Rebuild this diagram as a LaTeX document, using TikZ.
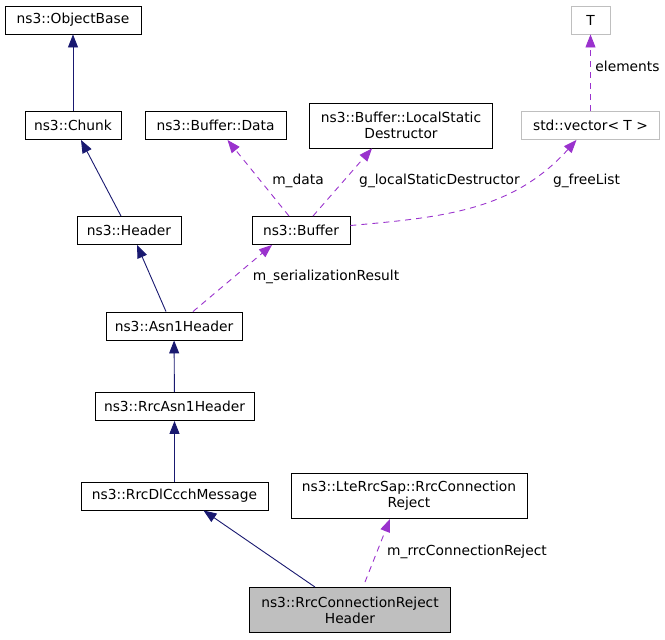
\documentclass[tikz,border=0pt]{standalone}
\usepackage{fontspec}
\setmainfont{DejaVu Sans}
\usetikzlibrary{arrows.meta}

\definecolor{inheritblue}{HTML}{191970}
\definecolor{memberpurple}{HTML}{9A32CD}
\definecolor{boxgray}{HTML}{BFBFBF}

\tikzset{
    classbox/.style={draw=black, fill=white, line width=0.9pt, inner sep=0pt,
        minimum height=28pt, align=center, font=\fontsize{13.8}{16}\selectfont},
    extbox/.style={classbox, draw=boxgray},
    inherits/.style={draw=inheritblue, line width=0.9pt,
        -{Triangle[length=13pt, width=10pt]}},
    member/.style={draw=memberpurple, line width=0.9pt, dash pattern=on 6pt off 5pt,
        -{Triangle[length=13pt, width=10pt]}},
    edgelabel/.style={inner sep=0pt, font=\fontsize{13.8}{16}\selectfont}
}

\begin{document}
\begin{tikzpicture}[x=1pt, y=-1pt]
        \useasboundingbox (0, 0) rectangle (665, 640);

        % Draw class boxes
        \node[classbox, minimum width=136pt] (objectbase) at (73, 20) {ns3::ObjectBase};
        \node[classbox, minimum width=96pt] (chunk) at (73, 125.5) {ns3::Chunk};
        \node[classbox, minimum width=141pt] (bufferdata) at (215.5, 125.5) {ns3::Buffer::Data};
        \node[classbox, minimum width=183pt, minimum height=45pt] (localstatic) at (401, 125.5) {ns3::Buffer::LocalStatic\\Destructor};
        \node[extbox, minimum width=39pt] (tparam) at (590.5, 20) {T};
        \node[extbox, minimum width=138pt] (vector) at (590.5, 125.5) {std::vector< T >};
        \node[classbox, minimum width=104pt] (header) at (129, 230.5) {ns3::Header};
        \node[classbox, minimum width=98pt] (buffer) at (301, 230.5) {ns3::Buffer};
        \node[classbox, minimum width=136pt] (asnheader) at (174, 326) {ns3::Asn1Header};
        \node[classbox, minimum width=159pt] (rrcasn) at (174.5, 406.5) {ns3::RrcAsn1Header};
        \node[classbox, minimum width=187pt] (dlccch) at (174.5, 496) {ns3::RrcDlCcchMessage};
        \node[classbox, minimum width=236pt, minimum height=45pt] (sapreject) at (409, 496) {ns3::LteRrcSap::RrcConnection\\Reject};
        \node[classbox, fill=boxgray, minimum width=201pt, minimum height=45pt] (rejectheader) at (350, 610) {ns3::RrcConnectionReject\\Header};

        % Draw inheritance arrows
        \draw[inherits] (chunk) -- (objectbase);
        \draw[inherits] ([xshift=-8pt]header.north) -- ([xshift=8pt]chunk.south);
        \draw[inherits] ([xshift=-8pt]asnheader.north) -- ([xshift=8pt]header.south);
        \draw[inherits] (rrcasn) -- (asnheader);
        \draw[inherits] (dlccch) -- (rrcasn);
        \draw[inherits] ([xshift=-35pt]rejectheader.north) -- ([xshift=29pt]dlccch.south);

        % Draw member arrows
        \draw[member] ([xshift=-12pt]buffer.north) -- ([xshift=12pt]bufferdata.south);
        \draw[member] ([xshift=12pt]buffer.north) -- ([xshift=-29pt]localstatic.south);
        \draw[member] ([yshift=5pt]buffer.east) to[out=5, in=-132] ([xshift=-14pt]vector.south);
        \draw[member] (vector) -- (tparam);
        \draw[member] ([xshift=19pt]asnheader.north) -- ([xshift=-29pt]buffer.south);
        \draw[member] ([xshift=15pt, yshift=5pt]rejectheader.north) -- ([xshift=-19pt]sapreject.south);

        % Add member names
        \node[edgelabel] (lbldata) at (298, 181) {m\_data};
        \node[edgelabel] (lbllocal) at (439.5, 181) {g\_localStaticDestructor};
        \node[edgelabel] (lblfree) at (586.5, 181) {g\_freeList};
        \node[edgelabel] (lblelems) at (627.5, 66) {elements};
        \node[edgelabel] (lblserial) at (326, 277) {m\_serializationResult};
        \node[edgelabel] (lblreject) at (467, 552) {m\_rrcConnectionReject};
    \end{tikzpicture}
\end{document}
